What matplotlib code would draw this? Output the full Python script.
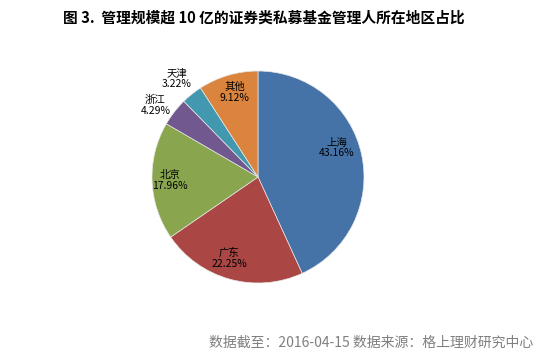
import numpy as np
import matplotlib
matplotlib.use('Agg')
import matplotlib.pyplot as plt

plt.rcParams['font.family'] = ['Noto Sans CJK SC', 'DejaVu Sans']

regions = ['上海', '广东', '北京', '浙江', '天津', '其他']
shares = [43.16, 22.25, 17.96, 4.29, 3.22, 9.12]
colors = ['#4572A7', '#AA4643', '#89A54E', '#71588F', '#4198AF', '#DB843D']

# label placement: radial distance and angle nudge (deg) per slice
label_r = [0.79, 0.81, 0.83, 1.18, 1.20, 0.83]
label_shift = [8, -4, 0, 3, 1, -1]

fig = plt.figure(figsize=(5.4, 3.57), dpi=100)
R = 106
cx, cy = 258, 177
ax = fig.add_axes([(cx - R) / 540, (357 - cy - R) / 357, 2 * R / 540, 2 * R / 357])
wedges, _ = ax.pie(shares, colors=colors, startangle=90, counterclock=False,
                   radius=1, wedgeprops=dict(edgecolor='#e8e8e8', linewidth=0.5))
ax.set_xlim(-1, 1)
ax.set_ylim(-1, 1)
ax.set_aspect('equal')
ax.axis('off')

for w, name, v, r, s in zip(wedges, regions, shares, label_r, label_shift):
    ang = np.deg2rad((w.theta1 + w.theta2) / 2 + s)
    ax.text(r * np.cos(ang), r * np.sin(ang), f'{name}\n{v:.2f}%',
            ha='center', va='center', fontsize=7.5, linespacing=1.1,
            clip_on=False, color='black')

fig.text(264 / 540, 1 - 18 / 357, '图 3.  管理规模超 10 亿的证券类私募基金管理人所在地区占比',
         ha='center', va='center', fontsize=10.6, fontweight='bold')
fig.text(533 / 540, 1 - 343 / 357, '数据截至：2016-04-15 数据来源：格上理财研究中心',
         ha='right', va='center', fontsize=10, color='#7f7f7f')

fig.savefig('out.png', dpi=100)
